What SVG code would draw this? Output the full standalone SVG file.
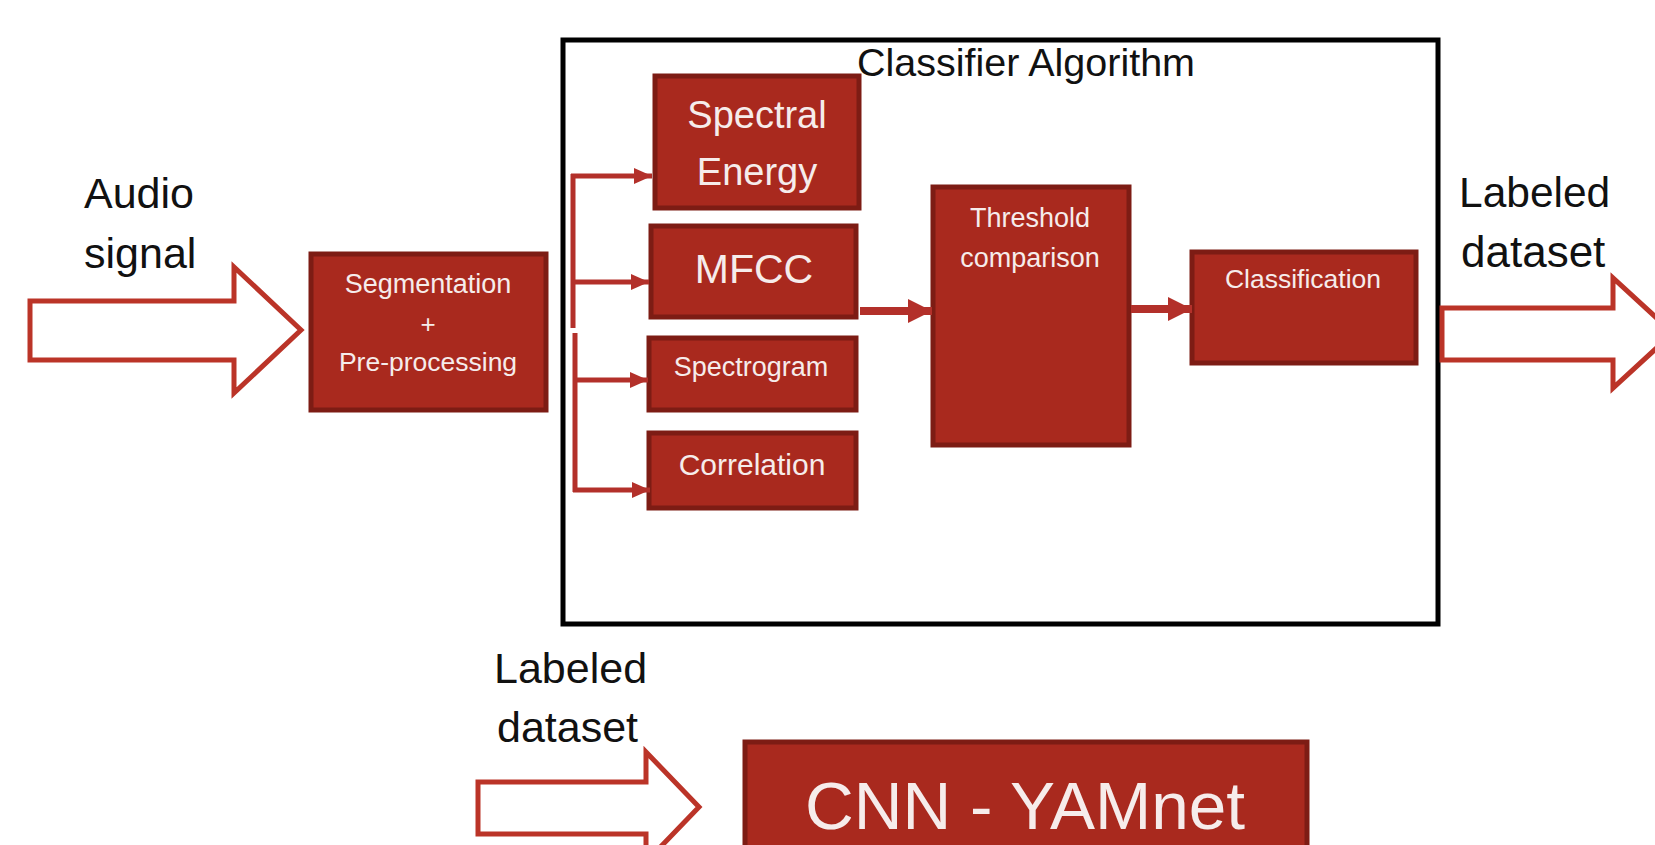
<svg xmlns="http://www.w3.org/2000/svg" width="1655" height="845" viewBox="0 0 1655 845">
  <style>
    .box { fill: #a9291e; stroke: #7d1c14; stroke-width: 5; }
    .frame { fill: none; stroke: #000; stroke-width: 5; }
    .hollow { fill: #fff; stroke: #bb3428; stroke-width: 5; stroke-linejoin: miter; }
    .wire { fill: none; stroke: #b3302a; stroke-width: 5; }
    .wire-thick { fill: none; stroke: #b3302a; stroke-width: 8; }
    .lbl { font-family: "Liberation Sans", Arial, sans-serif; fill: #111; }
    .in { font-family: "Liberation Sans", Arial, sans-serif; fill: #f6eceb; text-anchor: middle; }
  </style>
  <defs>
    <marker id="head" markerUnits="userSpaceOnUse" markerWidth="20" markerHeight="18" refX="18" refY="8" orient="auto">
      <path d="M0,0 L18,8 L0,16 z" fill="#b3302a"/>
    </marker>
    <marker id="head-big" markerUnits="userSpaceOnUse" markerWidth="26" markerHeight="26" refX="24" refY="12" orient="auto">
      <path d="M0,0 L24,12 L0,24 z" fill="#b3302a"/>
    </marker>
  </defs>

  <rect width="1655" height="845" fill="#fff"/>

  <!-- Classifier container -->
  <g id="classifier">
    <rect class="frame" x="563" y="40" width="875" height="584"/>
    <text class="lbl" x="1026" y="76" font-size="39.5" text-anchor="middle">Classifier Algorithm</text>
  </g>

  <!-- Input / output labels and hollow arrows -->
  <g id="audio-input">
    <text class="lbl" x="84" y="208" font-size="43">Audio</text>
    <text class="lbl" x="84" y="268" font-size="43">signal</text>
    <polygon class="hollow" points="30,301 234,301 234,267 301,330 234,393 234,360 30,360"/>
  </g>

  <g id="labeled-output">
    <text class="lbl" x="1459" y="207" font-size="42.5">Labeled</text>
    <text class="lbl" x="1461" y="267" font-size="44">dataset</text>
    <polygon class="hollow" points="1442,308 1613,308 1613,278 1673,333 1613,388 1613,360 1442,360"/>
  </g>

  <g id="labeled-input">
    <text class="lbl" x="494" y="683" font-size="43">Labeled</text>
    <text class="lbl" x="497" y="742" font-size="43">dataset</text>
    <polygon class="hollow" points="478,782 646,782 646,752 699,807 646,862 646,834 478,834"/>
  </g>

  <!-- Processing blocks -->
  <g id="segmentation">
    <rect class="box" x="311" y="254" width="235" height="156"/>
    <text class="in" x="428" y="293" font-size="27">Segmentation</text>
    <text class="in" x="428" y="333" font-size="26">+</text>
    <text class="in" x="428" y="371" font-size="26.5">Pre-processing</text>
  </g>

  <g id="spectral-energy">
    <rect class="box" x="655" y="76" width="204" height="132"/>
    <text class="in" x="757" y="128" font-size="38">Spectral</text>
    <text class="in" x="757" y="185" font-size="38">Energy</text>
  </g>

  <g id="mfcc">
    <rect class="box" x="651" y="226" width="205" height="91"/>
    <text class="in" x="754" y="283" font-size="41">MFCC</text>
  </g>

  <g id="spectrogram">
    <rect class="box" x="649" y="338" width="207" height="72"/>
    <text class="in" x="751" y="376" font-size="27">Spectrogram</text>
  </g>

  <g id="correlation">
    <rect class="box" x="649" y="433" width="207" height="75"/>
    <text class="in" x="752" y="475" font-size="30">Correlation</text>
  </g>

  <g id="threshold">
    <rect class="box" x="933" y="187" width="196" height="258"/>
    <text class="in" x="1030" y="227" font-size="27">Threshold</text>
    <text class="in" x="1030" y="267" font-size="27">comparison</text>
  </g>

  <g id="classification">
    <rect class="box" x="1192" y="252" width="224" height="111"/>
    <text class="in" x="1303" y="288" font-size="26.5">Classification</text>
  </g>

  <g id="cnn-yamnet">
    <rect class="box" x="745" y="742" width="562" height="120"/>
    <text class="in" x="1025" y="829" font-size="67.5">CNN - YAMnet</text>
  </g>

  <!-- Connectors -->
  <g id="connectors">
    <path class="wire" d="M573,174 V328"/>
    <path class="wire" d="M575,333 V492"/>
    <path class="wire" d="M571,176 H652" marker-end="url(#head)"/>
    <path class="wire" d="M573,282 H649" marker-end="url(#head)"/>
    <path class="wire" d="M575,380 H648" marker-end="url(#head)"/>
    <path class="wire" d="M573,490 H650" marker-end="url(#head)"/>
    <path class="wire-thick" d="M860,311 H932" marker-end="url(#head-big)"/>
    <path class="wire-thick" d="M1131,309 H1192" marker-end="url(#head-big)"/>
  </g>
</svg>
